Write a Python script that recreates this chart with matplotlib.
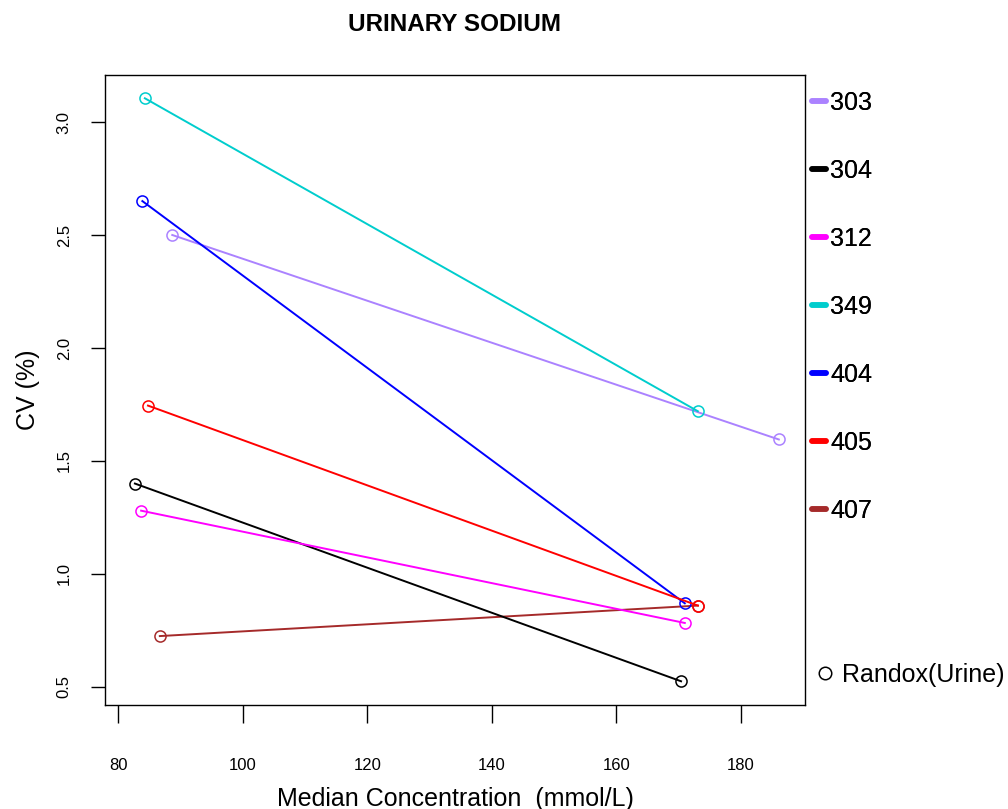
import matplotlib.pyplot as plt
from matplotlib.lines import Line2D

plt.rcParams['font.family'] = ['Liberation Sans', 'DejaVu Sans']

# --- datos ---
labs = ["303", "304", "312", "349", "404", "405", "407"]
colores = ["#AB82FF", "black", "#FF00FF", "#00CDCD", "blue", "red", "#A52A2A"]
conc_bajo = [88.7, 82.7, 83.7, 84.3, 83.9, 84.8, 86.7]
conc_alto = [186.1, 170.4, 171.0, 173.1, 171.0, 173.1, 173.1]
cv_bajo = [2.50, 1.40, 1.28, 3.105, 2.65, 1.745, 0.725]
cv_alto = [1.595, 0.525, 0.783, 1.72, 0.87, 0.86, 0.86]
xticks = [80, 100, 120, 140, 160, 180]
yticks = [0.5, 1.0, 1.5, 2.0, 2.5, 3.0]

fig = plt.figure(figsize=(10.08, 8.09), dpi=100)
ax = fig.add_axes([105 / 1008, 1 - 705 / 809, 700 / 1008, 630 / 809])

for i, lab in enumerate(labs):
    z = 1.5 if lab == "407" else 2
    ax.plot([conc_bajo[i], conc_alto[i]], [cv_bajo[i], cv_alto[i]], color=colores[i],
            lw=1.4, marker="o", ms=8, mfc="none", mew=1.1, zorder=z)

ax.set_xlim(77.9, 190.3)
ax.set_ylim(0.42, 3.208)
ax.set_xticks(xticks)
ax.set_xticklabels([str(t) for t in xticks], fontsize=12)
ax.set_yticks(yticks)
ax.set_yticklabels([f"{t:.1f}" for t in yticks], fontsize=12, rotation=90, va="center")
ax.tick_params(axis="x", length=13, width=1, pad=25)
ax.tick_params(axis="y", length=10, width=1, pad=14)
for s in ax.spines.values():
    s.set_linewidth(1)

ax.set_xlabel("Median Concentration  (mmol/L)", fontsize=18, labelpad=10)
ax.set_ylabel("CV (%)", fontsize=18, labelpad=12)
ax.set_title("URINARY SODIUM", fontsize=17.5, fontweight="bold", pad=32)

# --- leyendas ---
handles = [Line2D([0], [0], color=c, lw=4, solid_capstyle="round") for c in colores]
leg = fig.legend(handles, labs, loc="upper left", bbox_to_anchor=(812 / 1008, 1 - 91 / 809),
                 frameon=False, fontsize=18, handlelength=0.55, handletextpad=0.18,
                 labelspacing=1.76, borderaxespad=0, borderpad=0)
fig.add_artist(leg)
h2 = [Line2D([0], [0], color="black", lw=0, marker="o", ms=9, mfc="none", mew=1.1)]
fig.legend(h2, ["Randox(Urine)"], loc="center left", bbox_to_anchor=(817 / 1008, 1 - 675 / 809),
           frameon=False, fontsize=18, handlelength=0.6, handletextpad=0.4, borderaxespad=0,
           borderpad=0)

fig.savefig("out.png", dpi=100)
